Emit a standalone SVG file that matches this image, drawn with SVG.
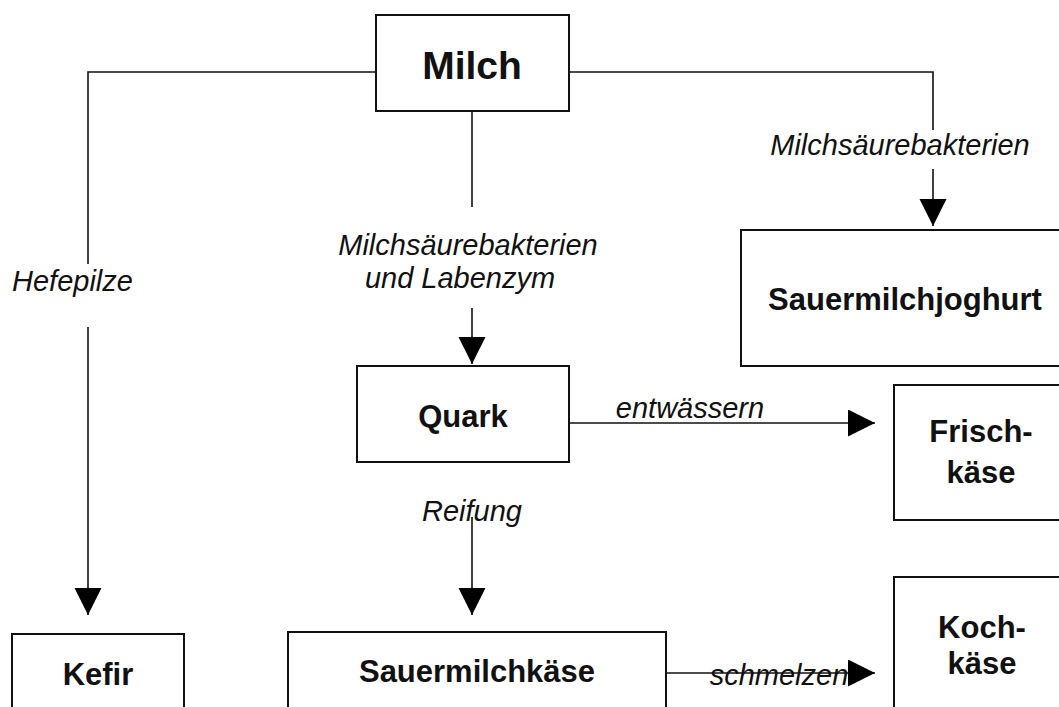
<svg xmlns="http://www.w3.org/2000/svg" width="1059" height="707" viewBox="0 0 1059 707">
<defs>
<marker id="ah" markerUnits="userSpaceOnUse" markerWidth="28" markerHeight="28" refX="27" refY="13.5" orient="auto">
<path d="M0,0 L27,13.5 L0,27 Z" fill="#000"/>
</marker>
<style>
.box{fill:#fff;stroke:#111;stroke-width:2}
.ln{fill:none;stroke:#111;stroke-width:1.6}
.ar{fill:none;stroke:#111;stroke-width:1.6;marker-end:url(#ah)}
.nt{font-family:"Liberation Sans",Arial,sans-serif;font-weight:bold;font-size:31px;fill:#111;text-anchor:middle}
.lb{font-family:"Liberation Sans",Arial,sans-serif;font-style:italic;font-size:29px;fill:#111;text-anchor:middle}
</style>
</defs>
<rect width="1059" height="707" fill="#fff"/>
<g id="connectors">
<polyline class="ln" points="376,72 88,72 88,264"/>
<line class="ar" x1="88" y1="327" x2="88" y2="615"/>
<line class="ln" x1="472" y1="111" x2="472" y2="207"/>
<line class="ar" x1="472" y1="308" x2="472" y2="364"/>
<polyline class="ln" points="569,72 933,72 933,130"/>
<line class="ar" x1="933" y1="169" x2="933" y2="226"/>
<line class="ar" x1="569" y1="423" x2="875" y2="423"/>
<line class="ar" x1="472" y1="517" x2="472" y2="615"/>
<text class="lb" x="12" y="291" style="text-anchor:start">Hefepilze</text>
<text class="lb" x="468" y="255">Milchsäurebakterien</text>
<text class="lb" x="460" y="288">und Labenzym</text>
<text class="lb" x="900" y="155">Milchsäurebakterien</text>
<text class="lb" x="690" y="418">entwässern</text>
<text class="lb" x="472" y="521">Reifung</text>
<text class="lb" x="779" y="685">schmelzen</text>
<line class="ar" x1="666" y1="673" x2="875" y2="673"/>
</g>
<g id="node-milch">
<rect class="box" x="376" y="15" width="193" height="96"/>
<text class="nt" x="472" y="79" style="font-size:39px">Milch</text>
</g>
<g id="node-joghurt">
<rect class="box" x="741" y="230" width="330" height="136"/>
<text class="nt" x="905" y="310">Sauermilchjoghurt</text>
</g>
<g id="node-quark">
<rect class="box" x="357" y="366" width="212" height="96"/>
<text class="nt" x="463" y="427">Quark</text>
</g>
<g id="node-frischkaese">
<rect class="box" x="894" y="385" width="180" height="135"/>
<text class="nt" x="981" y="442">Frisch-</text>
<text class="nt" x="981" y="483">käse</text>
</g>
<g id="node-kochkaese">
<rect class="box" x="894" y="577" width="180" height="150"/>
<text class="nt" x="982" y="638">Koch-</text>
<text class="nt" x="982" y="674">käse</text>
</g>
<g id="node-sauermilchkaese">
<rect class="box" x="288" y="632" width="378" height="95"/>
<text class="nt" x="477" y="682">Sauermilchkäse</text>
</g>
<g id="node-kefir">
<rect class="box" x="12" y="634" width="172" height="93"/>
<text class="nt" x="98" y="685">Kefir</text>
</g>
</svg>
